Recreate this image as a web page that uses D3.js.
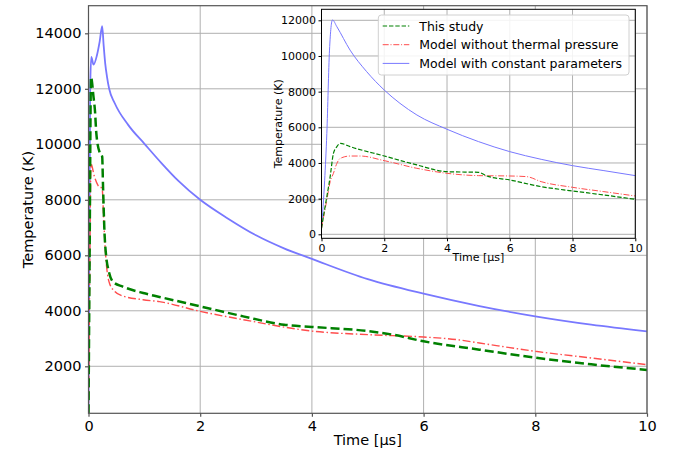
<!DOCTYPE html>
<html><head><meta charset="utf-8">
<script src="https://cdn.jsdelivr.net/npm/d3@7"></script>
<style>
body{margin:0;background:#fff;}
text{font-family:"DejaVu Sans",sans-serif;fill:#000;}
</style></head>
<body><svg id="c" width="678" height="453"></svg>
<script>
// ---- data (main axes) ----
const blueMainT = [0,0.03,0.05,0.09,0.15,0.2,0.245,0.27,0.3,0.33,0.37,0.47,0.71,1.01,1.31,1.61,2.0,2.5,3.0,3.5,4.0,5.0,6.0,7.0,8.0,9.0,10];
const blueMainV = [306,12000,13150,12870,13200,13700,14260,13600,12900,12450,12000,11480,10700,10000,9315,8680,8000,7320,6720,6250,5870,5140,4616,4170,3800,3500,3260];
const greenMainT = [0,0.02,0.045,0.09,0.116,0.14,0.2,0.245,0.26,0.287,0.32,0.36,0.436,0.615,0.98,1.27,2.0,2.77,3.5,4.0,5.0,5.45,6.0,7.0,8.0,9.0,10];
const greenMainV = [306,6000,12420,11700,11200,10400,9700,9560,8500,6800,5900,5450,5050,4870,4640,4500,4160,3800,3500,3420,3270,3140,2900,2600,2310,2070,1870];
const redMainT = [0,0.02,0.045,0.107,0.17,0.245,0.27,0.305,0.376,0.47,0.59,0.976,1.27,2,2.77,4,5,6,6.6,7,8,9,10];
const redMainV = [306,5000,9290,8830,8520,8400,7390,6070,4990,4700,4550,4400,4330,3980,3680,3270,3140,3056,2960,2840,2540,2300,2060];
// ---- data (inset axes) ----
const blueInsetT = [0,0.1,0.17,0.255,0.35,0.49,0.91,1.44,2,2.5,3.04,4,5,6,7,8,9,10];
const blueInsetV = [336,3000,5660,10330,12020,11640,10330,9120,8090,7345,6690,5890,5200,4635,4205,3850,3570,3290];
const greenInsetT = [0,0.08,0.17,0.276,0.38,0.49,0.6,0.91,2,3.04,4,5,5.27,6,7,8,9,10];
const greenInsetV = [336,1200,2110,3230,4540,4915,5100,4915,4390,3890,3510,3476,3270,3046,2672,2430,2205,1962];
const redInsetT = [0,0.08,0.17,0.276,0.38,0.49,0.6,0.91,1.23,2,3.04,4,5,6,6.54,7,8,9,10];
const redInsetV = [336,1100,1925,2950,3420,3980,4260,4390,4390,4130,3700,3420,3290,3270,3233,2953,2635,2392,2149];
// ---- ticks / labels ----
const xTicks = [0,2,4,6,8,10];
const yTicksMain = [2000,4000,6000,8000,10000,12000,14000];
const yTicksInset = [0,2000,4000,6000,8000,10000,12000];
const seriesNames = ["This study","Model without thermal pressure","Model with constant parameters"];
const xLabel = "Time [µs]";
const yLabel = "Temperature (K)";

const svg = d3.select("#c");
const zip = (t,v)=>t.map((d,i)=>[d,v[i]]);

function drawAxes(g, x, y, yTicks, opt){
  const [x0,x1] = x.range(), [y0,y1] = y.range();
  const grid = g.append("g");
  xTicks.forEach(t=>grid.append("line").attr("x1",x(t)).attr("x2",x(t)).attr("y1",y0).attr("y2",y1)
    .attr("stroke","#b0b0b0").attr("stroke-width",opt.gridW));
  yTicks.forEach(t=>grid.append("line").attr("x1",x0).attr("x2",x1).attr("y1",y(t)).attr("y2",y(t))
    .attr("stroke","#b0b0b0").attr("stroke-width",opt.gridW));
  const xa = g.append("g").attr("transform",`translate(0,${y0})`)
    .call(d3.axisBottom(x).tickValues(xTicks).tickSize(opt.tick).tickPadding(opt.pad).tickFormat(d3.format("d")));
  const ya = g.append("g").attr("transform",`translate(${x0},0)`)
    .call(d3.axisLeft(y).tickValues(yTicks).tickSize(opt.tick).tickPadding(opt.pad).tickFormat(d3.format("d")));
  [xa,ya].forEach(a=>{
    a.select(".domain").remove();
    a.selectAll("line").attr("stroke",opt.spine).attr("stroke-width",opt.spineW);
    a.selectAll("text").attr("font-size",opt.font).attr("fill","#000").style("font-family","DejaVu Sans");
  });
  return grid;
}
function spines(g,x,y,opt){
  const [x0,x1] = x.range(), [y0,y1] = y.range();
  g.append("rect").attr("x",x0).attr("y",y1).attr("width",x1-x0).attr("height",y0-y1)
    .attr("fill","none").attr("stroke",opt.spine).attr("stroke-width",opt.spineW);
}

// ---------- main axes ----------
const L=88.5,R=647,T=5.7,B=413.3;
const x = d3.scaleLinear().domain([0,10]).range([L,R]);
const y = d3.scaleLinear().domain([306,14995]).range([B,T]);
const mOpt={gridW:1,tick:3.5,pad:3.5,font:"14.5px",spine:"#555",spineW:1.2};
const gm = svg.append("g");
drawAxes(gm,x,y,yTicksMain,mOpt);
svg.append("clipPath").attr("id","cm").append("rect").attr("x",L).attr("y",T).attr("width",R-L).attr("height",B-T);
const lineM = d3.line().x(d=>x(d[0])).y(d=>y(d[1])).curve(d3.curveMonotoneX);
const gl = gm.append("g").attr("clip-path","url(#cm)");
gl.append("path").attr("d",lineM(zip(blueMainT,blueMainV))).attr("fill","none").attr("stroke","#7878ff").attr("stroke-width",1.8);
gl.append("path").attr("d",lineM(zip(redMainT,redMainV))).attr("fill","none").attr("stroke","#ff4d4d").attr("stroke-width",1.4).attr("stroke-dasharray","8,2.6,1.5,2.6");
gl.append("path").attr("d",lineM(zip(greenMainT,greenMainV))).attr("fill","none").attr("stroke","#008000").attr("stroke-width",2.5).attr("stroke-dasharray","9,4");
spines(gm,x,y,mOpt);
gm.append("text").attr("x",(L+R)/2).attr("y",445).attr("text-anchor","middle").attr("font-size","14.5px").text(xLabel);
gm.append("text").attr("transform",`translate(33,${(T+B)/2}) rotate(-90)`).attr("text-anchor","middle").attr("font-size","14.5px").text(yLabel);

// ---------- inset axes ----------
const iL=321.5,iR=635.3,iT=9.3,iB=238.3;
const xi = d3.scaleLinear().domain([0,10]).range([iL,iR]);
const yi = d3.scaleLinear().domain([-224,12617]).range([iB,iT]);
svg.append("rect").attr("x",iL).attr("y",iT).attr("width",iR-iL).attr("height",iB-iT).attr("fill","#fff");
const iOpt={gridW:1,tick:3,pad:2.5,font:"11px",spine:"#000",spineW:1};
const gi = svg.append("g");
drawAxes(gi,xi,yi,yTicksInset,iOpt);
svg.append("clipPath").attr("id","ci").append("rect").attr("x",iL).attr("y",iT).attr("width",iR-iL).attr("height",iB-iT);
const lineI = d3.line().x(d=>xi(d[0])).y(d=>yi(d[1])).curve(d3.curveMonotoneX);
const gil = gi.append("g").attr("clip-path","url(#ci)");
gil.append("path").attr("d",lineI(zip(blueInsetT,blueInsetV))).attr("fill","none").attr("stroke","#7878ff").attr("stroke-width",1);
gil.append("path").attr("d",lineI(zip(redInsetT,redInsetV))).attr("fill","none").attr("stroke","#ff4d4d").attr("stroke-width",1).attr("stroke-dasharray","6,1.8,1,1.8");
gil.append("path").attr("d",lineI(zip(greenInsetT,greenInsetV))).attr("fill","none").attr("stroke","#008000").attr("stroke-width",1.2).attr("stroke-dasharray","4.4,1.9");
spines(gi,xi,yi,iOpt);
gi.append("text").attr("x",(iL+iR)/2).attr("y",261).attr("text-anchor","middle").attr("font-size","11px").text(xLabel);
gi.append("text").attr("transform",`translate(282,${(iT+iB)/2}) rotate(-90)`).attr("text-anchor","middle").attr("font-size","11px").text(yLabel);

// ---------- legend ----------
const lg = gi.append("g");
lg.append("rect").attr("x",378.3).attr("y",15).attr("width",250.7).attr("height",60).attr("rx",3)
  .attr("fill","#fff").attr("fill-opacity",0.85).attr("stroke","#d0d0d0").attr("stroke-width",1);
const legStyles=[{c:"#008000",w:1.2,d:"4.4,1.9"},{c:"#ff4d4d",w:1,d:"6,1.8,1,1.8"},{c:"#7878ff",w:1,d:null}];
seriesNames.forEach((n,i)=>{
  const yy = 26 + i*18.7;
  const ln = lg.append("line").attr("x1",382.7).attr("x2",409.3).attr("y1",yy).attr("y2",yy)
    .attr("stroke",legStyles[i].c).attr("stroke-width",legStyles[i].w);
  if(legStyles[i].d) ln.attr("stroke-dasharray",legStyles[i].d);
  lg.append("text").attr("x",419.3).attr("y",yy+4.5).attr("font-size","12.5px").text(n);
});
</script></body></html>
